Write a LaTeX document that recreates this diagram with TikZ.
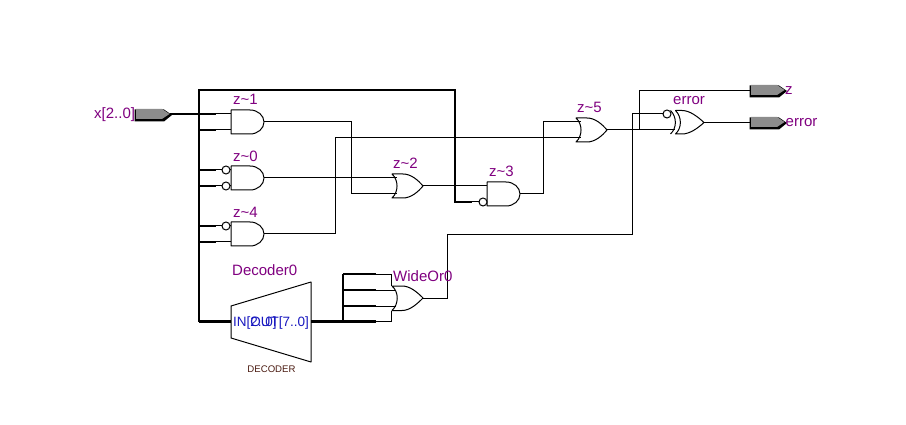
\documentclass[tikz,border=0pt]{standalone}
\usepackage{fontspec}
\setmainfont{Liberation Sans}
\definecolor{lblpurple}{HTML}{800080}
\definecolor{lblblue}{HTML}{1818C0}
\definecolor{lblbrown}{HTML}{4A1A10}
\definecolor{pingray}{HTML}{8C8C8C}
\tikzset{
  thinw/.style={line width=1pt,draw=black},
  busw/.style={line width=2.4pt,draw=black,line cap=butt,line join=miter},
  gateline/.style={line width=1pt,draw=black,fill=white,line join=round},
  bubl/.style={circle,draw=black,line width=1pt,fill=white,minimum size=8pt,inner sep=0pt,outer sep=0pt},
  lbl/.style={text=lblpurple,font=\fontsize{15}{15}\selectfont,inner sep=0pt,anchor=base west},
  portl/.style={text=lblblue,font=\fontsize{13.5}{14}\selectfont,inner sep=0pt},
  typel/.style={text=lblbrown,font=\fontsize{9.6}{10}\selectfont,inner sep=0pt,anchor=base},
}
% AND gate: name, left x, top y; inputs at +4 and +20, output at +12
\newcommand{\myand}[3]{%
  \draw[gateline] (#2,#3) -- ({#2+19},#3)
    .. controls ({#2+26.7},#3) and ({#2+33},{#3+5.4}) .. ({#2+33},{#3+12})
    .. controls ({#2+33},{#3+18.6}) and ({#2+26.7},{#3+24}) .. ({#2+19},{#3+24})
    -- (#2,{#3+24}) -- cycle;
  \coordinate (#1-a) at (#2,{#3+4});
  \coordinate (#1-b) at (#2,{#3+20});
  \coordinate (#1-o) at ({#2+33},{#3+12});
}
% OR gate: name, left x, top y; inputs at +4 and +20, output at +12
\newcommand{\myor}[3]{%
  \draw[gateline] (#2,#3) -- ({#2+11},#3)
    .. controls ({#2+19},#3) and ({#2+26},{#3+6}) .. ({#2+31},{#3+12})
    .. controls ({#2+26},{#3+18}) and ({#2+19},{#3+24}) .. ({#2+11},{#3+24})
    -- (#2,{#3+24})
    .. controls ({#2+6.7},{#3+18}) and ({#2+6.7},{#3+6}) .. (#2,#3) -- cycle;
  \coordinate (#1-a) at ({#2+4.5},{#3+4});
  \coordinate (#1-b) at ({#2+4.5},{#3+20});
  \coordinate (#1-o) at ({#2+31},{#3+12});
}
% pin: name, left x, top y
\newcommand{\mypin}[3]{%
  \fill[black] ({#2-1.5},{#3+0.5}) -- ({#2+28},{#3+0.5}) -- ({#2+36},{#3+6}) -- ({#2+28},{#3+12.5}) -- ({#2-1.5},{#3+12.5}) -- cycle;
  \fill[pingray] (#2,#3) -- ({#2+26},#3) -- ({#2+33.5},{#3+5}) -- ({#2+26},{#3+10}) -- (#2,{#3+10}) -- cycle;
  \coordinate (#1-l) at ({#2-1},{#3+5.5});
  \coordinate (#1-r) at ({#2+35},{#3+5.5});
}
\begin{document}
\begin{tikzpicture}[x=1pt,y=-1pt]
\useasboundingbox (0,0) rectangle (906,425);
\fill[white] (0,0) rectangle (906,425);

% named junctions
\coordinate (busT) at (199,90);
\coordinate (busTR) at (455,90);
\coordinate (busB) at (199,321.5);

% wires that lie under the gates
\draw[busw] (busB) -- (busT) -- (busTR) -- (455,202) -- (472,202);
\draw[thinw] (472,202) -- (480,202);

% gates
\myand{zone}{231}{110}
\myand{zzero}{231}{166}
\myand{zfour}{231}{222}
\myor{ztwo}{392}{174}
\myand{zthree}{487}{182}
\myor{zfive}{576}{118}

% XOR gate
\draw[gateline] (675.5,110.5) -- (682,110.5)
  .. controls (690,110.5) and (698,117) .. (704,122.5)
  .. controls (698,128) and (690,134) .. (682,134)
  -- (675.5,134)
  .. controls (682,128) and (682,117) .. (675.5,110.5) -- cycle;
\draw[line width=1pt] (670.5,110.5) .. controls (677,117) and (677,128) .. (670.5,134);
\coordinate (xor-a) at (671,114);
\coordinate (xor-b) at (675,130);
\coordinate (xor-o) at (704,122.5);

% bubbles
\node[bubl] (bz0a) at (226,170) {};
\node[bubl] (bz0b) at (226,186) {};
\node[bubl] (bz4a) at (226,226) {};
\node[bubl] (bz3b) at (483,202) {};
\node[bubl] (bxor) at (667,114) {};

% pins
\mypin{xin}{136}{109}
\mypin{pz}{751}{85}
\mypin{perr}{751}{117}

% input stubs from bus
\coordinate (s1a) at (216,114); \coordinate (s1b) at (216,130);
\coordinate (s2a) at (216,170); \coordinate (s2b) at (216,186);
\coordinate (s3a) at (216,226); \coordinate (s3b) at (216,242);
\draw[busw] (170,114) -- (s1a);
\draw[busw] (199,130) -- (s1b);
\draw[busw] (199,170) -- (s2a);
\draw[busw] (199,186) -- (s2b);
\draw[busw] (199,226) -- (s3a);
\draw[busw] (199,242) -- (s3b);
\draw[thinw] (s1a) -- (zone-a);
\draw[thinw] (s1b) -- (zone-b);
\draw[thinw] (s2a) -- (bz0a);
\draw[thinw] (s2b) -- (bz0b);
\draw[thinw] (s3a) -- (bz4a);
\draw[thinw] (s3b) -- (zfour-b);
\draw[thinw] (bz0a) -- (zzero-a);
\draw[thinw] (bz0b) -- (zzero-b);
\draw[thinw] (bz4a) -- (zfour-a);

% logic wires
\draw[thinw] (zone-o) -- (351,122) -- (351,194) -- (ztwo-b);
\draw[thinw] (zzero-o) -- (ztwo-a);
\draw[thinw] (ztwo-o) -- (zthree-a);
\draw[thinw] (zthree-o) -- (543,194) -- (543,122) -- (zfive-a);
\draw[thinw] (zfour-o) -- (335,234) -- (335,138) -- (zfive-b);
\draw[thinw] (zfive-o) -- (xor-b);
\draw[thinw] (639,130) -- (639,90.5) -- (pz-l);
\draw[thinw] (xor-o) -- (perr-l);

% decoder
\coordinate (decIn) at (231,321.5);
\coordinate (decOut) at (311,321.5);
\draw[gateline] (231,306) -- (311,282) -- (311,362) -- (231,338) -- cycle;
\draw[busw] (busB) -- (decIn);
\draw[busw] (decOut) -- (376,321.5);
\draw[busw] (343,274) -- (343,322.5);
\draw[busw] (343,274) -- (376,274);
\draw[busw] (343,290) -- (376,290);
\draw[busw] (343,306) -- (376,306);

% wide OR gate
\draw[gateline] (392,286) -- (402,286)
  .. controls (410,286) and (417,292) .. (423,298)
  .. controls (417,304) and (410,310.5) .. (402,310.5)
  -- (392,310.5)
  .. controls (399,304) and (399,292) .. (392,286) -- cycle;
\coordinate (wo-o) at (423,298);
\draw[thinw] (376,274) -- (391,274) -- (391,286);
\draw[thinw] (376,290) -- (396,290);
\draw[thinw] (376,306) -- (396,306);
\draw[thinw] (376,321.5) -- (391,321.5) -- (391,310.5);
\draw[thinw] (wo-o) -- (447,298) -- (447,235) -- (632,235) -- (632,114) -- (bxor);

% labels
\node[lbl] (lz1) at (233,105) {z\char`\~1};
\node[lbl] (lz0) at (233,161.5) {z\char`\~0};
\node[lbl] (lz4) at (233,217.5) {z\char`\~4};
\node[lbl] (lz2) at (393,169) {z\char`\~2};
\node[lbl] (lz3) at (489,177) {z\char`\~3};
\node[lbl] (lz5) at (577,113) {z\char`\~5};
\node[lbl] (lerrg) at (673,105) {error};
\node[lbl] (lx) at (94,119) {x[2..0]};
\node[lbl] (lpz) at (785,95) {z};
\node[lbl] (lperr) at (785.5,127) {error};
\node[lbl] (ldec) at (232,276) {Decoder0};
\node[lbl] (lwo) at (393,281) {WideOr0};
\node[portl,anchor=base west] (lin) at (233,326) {IN[2..0]};
\node[portl,anchor=base east] (lout) at (309,326) {OUT[7..0]};
\node[typel] (ltype) at (271.5,372.5) {DECODER};
\end{tikzpicture}
\end{document}
